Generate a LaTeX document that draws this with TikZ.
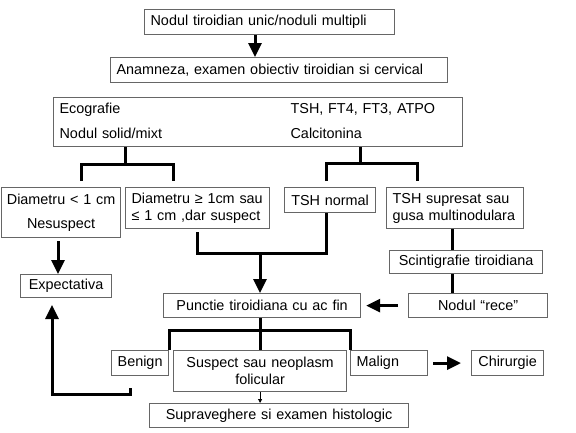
\documentclass[tikz,border=0pt]{standalone}
\usepackage{fontspec}
\setmainfont{Liberation Sans}
\usetikzlibrary{arrows.meta,positioning}
\definecolor{boxline}{HTML}{666666}
\tikzset{
  fbox/.style={draw=boxline,line width=1.2pt,fill=white,anchor=north west,inner xsep=6pt,inner ysep=0pt,align=center},
  fline/.style={line width=3pt,draw=black},
  farr/.style={-{Triangle[length=14pt,width=13pt]},line width=3pt,draw=black},
  fthin/.style={-{Triangle[length=4pt,width=4pt]},line width=0.8pt,draw=black}
}
\begin{document}
\begin{tikzpicture}[x=1pt,y=-1pt,font=\fontsize{14.4}{17}\selectfont]
  \useasboundingbox (0,0) rectangle (576,432);
  % boxes, placed by their top left corner (pixel grid, y down)
  \node[fbox,text width=238pt,minimum height=25pt,align=left] (nodul) at (144,9) {Nodul tiroidian unic/noduli multipli};
  \node[fbox,text width=325pt,minimum height=25pt,align=left] (anamn) at (110,57) {Anamneza, examen obiectiv tiroidian si cervical};
  \node[fbox,text width=397pt,minimum height=49pt,align=left] (eco) at (53,97) {\begin{tabular}{@{}p{231pt}@{}l@{}}Ecografie & TSH, FT4, FT3, ATPO\\[8pt] Nodul solid/mixt & Calcitonina\end{tabular}};
  \node[fbox,inner xsep=2pt,text width=115pt,minimum height=50pt] (dmic) at (1,187) {Diametru < 1 cm\\[7pt]Nesuspect};
  \node[fbox,text width=132pt,minimum height=41pt,align=left] (dmare) at (125,187) {Diametru ≥ 1cm sau\\≤ 1 cm ,dar suspect};
  \node[fbox,text width=79pt,minimum height=25pt] (tshn) at (284,187) {TSH normal};
  \node[fbox,text width=125pt,minimum height=41pt,align=left] (tshs) at (386,187) {TSH supresat sau\\gusa multinodulara};
  \node[fbox,text width=141pt,minimum height=23pt] (scint) at (389,250) {Scintigrafie tiroidiana};
  \node[fbox,text width=79pt,minimum height=23pt] (expect) at (20,274) {Expectativa};
  \node[fbox,text width=185pt,minimum height=24pt] (punct) at (163,293) {Punctie tiroidiana cu ac fin};
  \node[fbox,text width=127pt,minimum height=24pt] (rece) at (408,293) {Nodul “rece”};
  \node[fbox,inner xsep=2pt,text width=53pt,minimum height=25pt] (benign) at (111,350) {Benign};
  \node[fbox,text width=161pt,minimum height=41pt] (susp) at (173,350) {Suspect sau neoplasm\\folicular};
  \node[fbox,text width=65pt,minimum height=25pt,align=left] (malign) at (350,350) {Malign};
  \node[fbox,text width=60pt,minimum height=25pt] (chir) at (471,350) {Chirurgie};
  \node[fbox,text width=247pt,minimum height=24pt] (suprav) at (149,403) {Supraveghere si examen histologic};
  % corner points of the connectors
  \coordinate (lbr) at (125,164);
  \coordinate (la) at (81,181);
  \coordinate (lc) at (173,181);
  \coordinate (rbr) at (360,163);
  \coordinate (ra) at (326,181);
  \coordinate (rc) at (417,181);
  \coordinate (jn) at (260,253);
  \coordinate (ea) at (58,241);
  \coordinate (pb) at (260,330);
  \coordinate (bk) at (130,388);
  \coordinate (bc) at (52,394);
  \coordinate (bt) at (52,305);
  % connectors
  \draw[farr] (nodul.south -| 255,0) -- (anamn.north -| 255,0);
  \draw[fline] (eco.south -| lbr) -- (lbr);
  \draw[fline] (la) |- (lbr) -| (lc);
  \draw[fline] (eco.south -| rbr) -- (rbr);
  \draw[fline] (ra) |- (rbr) -| (rc);
  \draw[farr] (ea) -- (expect.north -| ea);
  \draw[fline] ([yshift=-3pt]dmare.south) |- (jn) -| (tshn.south -| ra);
  \draw[farr] (jn) -- (punct.north -| jn);
  \draw[fline] (tshs.south -| 452,0) -- (scint.north -| 452,0);
  \draw[fline] (scint.south -| 452,0) -- (rece.north -| 452,0);
  \draw[farr] ([xshift=-10pt]rece.west) -- ([xshift=5pt]punct.east);
  \draw[fline] (punct.south -| susp.north) -- (susp.north);
  \draw[fline] (benign.north east) |- (pb) -| (malign.north west);
  \draw[farr] ([xshift=5pt]malign.east) -- ([xshift=-10pt]chir.west);
  \draw[fthin] (susp.south) -- (susp.south |- suprav.north);
  \draw[farr] (bk) |- (bc) -- (bt);
\end{tikzpicture}
\end{document}
